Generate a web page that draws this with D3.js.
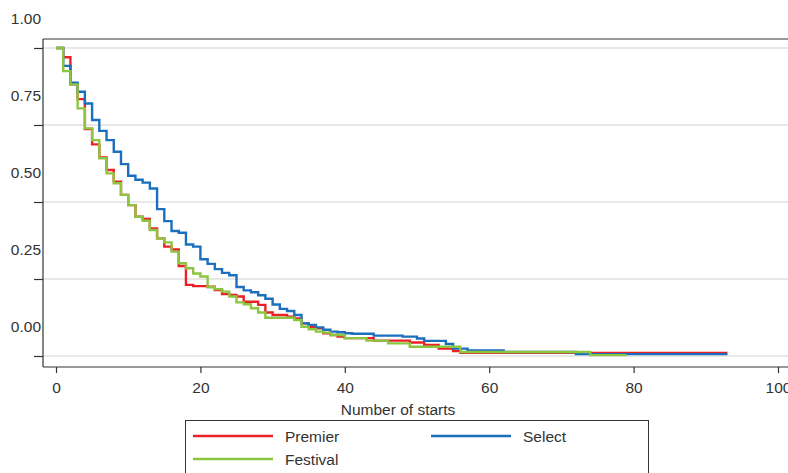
<!DOCTYPE html>
<html lang="en">
	<head>
		<meta charset="utf-8">
		<title>Survival by number of starts</title>
		<script type="text/javascript" src="https://cdn.jsdelivr.net/npm/d3@7"></script>
		<style type="text/css">
			body { margin: 0; background: #fff; }
			text { font-family: "Liberation Sans", Arial, sans-serif; fill: #333; }
		</style>
	</head>
	<body>
		<script type="text/javascript">
			// step curves: change points (number of starts) and survival after each one
			var premierT = [0, 1, 2, 3, 4, 5, 6, 7, 8, 9, 10, 11, 12, 13, 14, 15, 16, 17, 18, 19, 21, 22, 23, 24, 25, 26, 28, 29, 30, 32, 33, 34, 35, 36, 37, 38, 39, 40, 44, 49, 51, 53, 55, 56, 93];
			var premierS = [1.0, 0.970, 0.882, 0.834, 0.737, 0.687, 0.645, 0.604, 0.566, 0.523, 0.490, 0.452, 0.445, 0.414, 0.382, 0.355, 0.346, 0.292, 0.231, 0.227, 0.225, 0.214, 0.201, 0.198, 0.193, 0.176, 0.166, 0.141, 0.133, 0.128, 0.122, 0.106, 0.095, 0.090, 0.074, 0.068, 0.063, 0.058, 0.050, 0.044, 0.036, 0.024, 0.016, 0.010, 0.010];

			var selectT = [0, 1, 2, 3, 4, 5, 6, 7, 8, 9, 10, 11, 12, 13, 14, 15, 16, 17, 18, 19, 20, 21, 22, 23, 24, 25, 26, 27, 28, 29, 30, 31, 32, 33, 34, 35, 36, 37, 38, 39, 40, 41, 44, 48, 50, 51, 54, 55, 57, 62, 72, 93];
			var selectS = [1.0, 0.942, 0.887, 0.858, 0.820, 0.766, 0.731, 0.701, 0.663, 0.623, 0.585, 0.572, 0.563, 0.544, 0.477, 0.438, 0.406, 0.400, 0.362, 0.355, 0.314, 0.299, 0.282, 0.270, 0.262, 0.224, 0.213, 0.207, 0.197, 0.186, 0.167, 0.153, 0.146, 0.133, 0.106, 0.101, 0.093, 0.085, 0.079, 0.077, 0.074, 0.072, 0.066, 0.063, 0.057, 0.049, 0.039, 0.024, 0.018, 0.013, 0.006, 0.006];

			var festivalT = [0, 1, 2, 3, 4, 5, 6, 7, 8, 9, 10, 11, 12, 13, 14, 15, 16, 17, 18, 19, 20, 21, 22, 23, 24, 25, 26, 27, 28, 29, 33, 34, 35, 36, 37, 38, 40, 43, 46, 49, 56, 74, 79];
			var festivalS = [1.0, 0.925, 0.882, 0.804, 0.739, 0.701, 0.642, 0.593, 0.561, 0.523, 0.490, 0.452, 0.439, 0.409, 0.382, 0.369, 0.339, 0.301, 0.285, 0.268, 0.258, 0.223, 0.217, 0.209, 0.193, 0.174, 0.168, 0.155, 0.141, 0.124, 0.117, 0.095, 0.087, 0.079, 0.076, 0.068, 0.058, 0.050, 0.041, 0.030, 0.013, 0.003, 0.003];

			var xTicks = [0, 20, 40, 60, 80, 100];
			var yTicks = [0, 0.25, 0.5, 0.75, 1];
			var yTickLabels = ['0.00', '0.25', '0.50', '0.75', '1.00'];

			var series = [
				{name: 'Premier', t: premierT, s: premierS, color: '#ec2027'},
				{name: 'Select', t: selectT, s: selectS, color: '#1b6fbd'},
				{name: 'Festival', t: festivalT, s: festivalS, color: '#8cc540'}
			];

			var w = 788;
			var h = 473;
			var plot = {'left': 43, 'right': 790, 'top': 39, 'bottom': 367};

			var svg = d3.select('body').append('svg').attr('width', w).attr('height', h);

			var xScale = d3.scaleLinear().domain([0, 100]).range([56, 778]);
			var yScale = d3.scaleLinear().domain([0, 1]).range([356, 48]);

			// gridlines
			svg.append('g')
				.selectAll('line')
				.data(yTicks)
				.enter()
				.append('line')
				.attr('x1', plot.left)
				.attr('x2', plot.right)
				.attr('y1', function(d) { return yScale(d); })
				.attr('y2', function(d) { return yScale(d); })
				.attr('stroke', '#e1e1e1')
				.attr('stroke-width', 1.6);

			var line = d3.line()
				.curve(d3.curveStepAfter)
				.x(function(d) { return xScale(d[0]); })
				.y(function(d) { return yScale(d[1]); });

			svg.append('g')
				.selectAll('path')
				.data(series)
				.enter()
				.append('path')
				.attr('d', function(d) {
					return line(d.t.map(function(t, i) { return [t, d.s[i]]; }));
				})
				.attr('fill', 'none')
				.attr('stroke', function(d) { return d.color; })
				.attr('stroke-width', 2.4);

			// frame top
			svg.append('line')
				.attr('x1', plot.left).attr('x2', plot.right)
				.attr('y1', plot.top).attr('y2', plot.top)
				.attr('stroke', '#333').attr('stroke-width', 1.2);

			var yAxis = d3.axisLeft(yScale)
				.tickValues(yTicks)
				.tickSize(9)
				.tickFormat(function(d, i) { return yTickLabels[i]; });

			var gy = svg.append('g')
				.attr('transform', 'translate(' + plot.left + ',0)')
				.call(yAxis);
			gy.select('.domain').attr('d', 'M0,' + plot.top + 'V' + plot.bottom);
			gy.selectAll('text')
				.attr('x', -2)
				.attr('y', -25)
				.attr('dy', null)
				.style('font-size', '15.5px');

			var xAxis = d3.axisBottom(xScale)
				.tickValues(xTicks)
				.tickSize(6)
				.tickPadding(9);

			var gx = svg.append('g')
				.attr('transform', 'translate(0,' + plot.bottom + ')')
				.call(xAxis);
			gx.select('.domain').attr('d', 'M' + plot.left + ',0H' + plot.right);
			gx.selectAll('text').style('font-size', '15.5px');

			svg.selectAll('.domain, .tick line').attr('stroke', '#333').attr('stroke-width', 1.2);
			svg.selectAll('.tick text').attr('fill', '#333').style('font-family', '"Liberation Sans", Arial, sans-serif');

			svg.append('text')
				.attr('x', 398)
				.attr('y', 415)
				.attr('text-anchor', 'middle')
				.style('font-size', '15.5px')
				.text('Number of starts');

			// legend
			var legend = svg.append('g');
			legend.append('rect')
				.attr('x', 185.5).attr('y', 420.5)
				.attr('width', 463).attr('height', 70)
				.attr('fill', 'none')
				.attr('stroke', '#333')
				.attr('stroke-width', 1);

			var legendPos = [
				{x: 193, y: 436},
				{x: 431, y: 436},
				{x: 193, y: 459}
			];

			var items = legend.selectAll('g.item')
				.data(series)
				.enter()
				.append('g')
				.attr('class', 'item')
				.attr('transform', function(d, i) { return 'translate(' + legendPos[i].x + ',' + legendPos[i].y + ')'; });

			items.append('line')
				.attr('x1', 0).attr('x2', 80)
				.attr('stroke', function(d) { return d.color; })
				.attr('stroke-width', 2.4);

			items.append('text')
				.attr('x', 92)
				.attr('y', 5.5)
				.style('font-size', '15.5px')
				.text(function(d) { return d.name; });
		</script>
	</body>
</html>
